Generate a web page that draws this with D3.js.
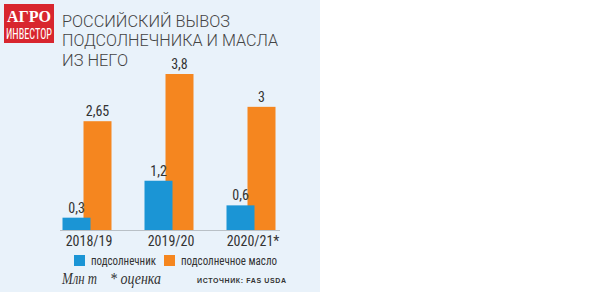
<!DOCTYPE html>
<html>
<head>
<meta charset="utf-8">
<title>Российский вывоз</title>
<style>
  body { margin: 0; background: #fff; }
  svg { display: block; }
  .nar { font-family: "Liberation Sans Narrow", "Roboto Condensed", "Arial Narrow", sans-serif; }
</style>
<script src="https://d3js.org/d3.v7.min.js"></script>
</head>
<body>
<script>
var seasons = ["2018/19", "2019/20", "2020/21*"];
var seeds = [0.3, 1.2, 0.6];
var oil = [2.65, 3.8, 3];
var seriesNames = ["подсолнечник", "подсолнечное масло"];
var colors = ["#1b95d5", "#f5861f"];

var w = 600, h = 292;
var svg = d3.select("body").append("svg").attr("width", w).attr("height", h);

svg.append("rect").attr("width", 320).attr("height", h).attr("fill", "#e9f2fa");

// logo
svg.append("rect").attr("x", 4).attr("y", 4).attr("width", 50).attr("height", 39).attr("fill", "#d8262e");
svg.append("text").attr("x", 29).attr("y", 22).attr("text-anchor", "middle")
  .attr("font-family", "Liberation Serif").attr("font-weight", "bold").attr("font-size", 16)
  .attr("textLength", 44).attr("lengthAdjust", "spacingAndGlyphs")
  .attr("fill", "#fff").text("АГРО");
svg.append("text").attr("class", "nar").attr("x", 29).attr("y", 39).attr("text-anchor", "middle")
  .attr("font-size", 14).attr("fill", "#fff").attr("textLength", 46).attr("lengthAdjust", "spacingAndGlyphs")
  .text("ИНВЕСТОР");

// title
var title = ["РОССИЙСКИЙ ВЫВОЗ", "ПОДСОЛНЕЧНИКА И МАСЛА", "ИЗ НЕГО"];
var titleW = [168, 216, 66];
svg.selectAll("text.title").data(title).enter().append("text")
  .attr("class", "title")
  .attr("x", 62).attr("y", function (d, i) { return 27 + i * 19.3; })
  .attr("font-family", "Roboto").attr("font-weight", 300)
  .attr("font-size", 16.8).attr("fill", "#444")
  .attr("textLength", function (d, i) { return titleW[i]; })
  .attr("lengthAdjust", "spacingAndGlyphs")
  .text(function (d) { return d; });

var x0 = d3.scaleBand().domain(seasons).range([46, 292]);
var y = d3.scaleLinear().domain([0, 3.8]).range([230, 74]);
var bw = 28, off = 21;

var g = svg.selectAll("g.grp").data(seasons).enter().append("g")
  .attr("transform", function (d) { return "translate(" + (x0(d) + x0.bandwidth() / 2) + ",0)"; });

// orange bars behind, blue in front
g.append("rect")
  .attr("x", -bw / 2 + off / 2)
  .attr("y", function (d, i) { return y(oil[i]); })
  .attr("width", bw)
  .attr("height", function (d, i) { return y(0) - y(oil[i]); })
  .attr("fill", colors[1]);
g.append("rect")
  .attr("x", -bw / 2 - off / 2)
  .attr("y", function (d, i) { return y(seeds[i]); })
  .attr("width", bw)
  .attr("height", function (d, i) { return y(0) - y(seeds[i]); })
  .attr("fill", colors[0]);

var fmt = function (v) { return String(v).replace(".", ","); };
g.append("text").attr("class", "nar")
  .attr("x", off / 2).attr("y", function (d, i) { return y(oil[i]) - 5; })
  .attr("text-anchor", "middle").attr("font-size", 14).attr("fill", "#333")
  .text(function (d, i) { return fmt(oil[i]); });
g.append("text").attr("class", "nar")
  .attr("x", -off / 2).attr("y", function (d, i) { return y(seeds[i]) - 5; })
  .attr("text-anchor", "middle").attr("font-size", 14).attr("fill", "#333")
  .text(function (d, i) { return fmt(seeds[i]); });

// baseline + category axis
var ax = svg.append("g").attr("transform", "translate(0," + y(0) + ")")
  .call(d3.axisBottom(x0).tickSize(0).tickPadding(6));
ax.select(".domain").attr("stroke", "#b9c0c6").attr("d", "M60,0.5H280");
ax.selectAll("text").attr("class", "nar").attr("font-size", 14).attr("fill", "#333")
  .attr("dx", 2).attr("font-family", null);

// legend
var leg = [[74, 91, 65], [164, 181, 96]];
seriesNames.forEach(function (s, i) {
  svg.append("rect").attr("x", leg[i][0]).attr("y", 255).attr("width", 11).attr("height", 11).attr("fill", colors[i]);
  svg.append("text").attr("class", "nar").attr("x", leg[i][1]).attr("y", 265)
    .attr("font-size", 13).attr("fill", "#333")
    .attr("textLength", leg[i][2]).attr("lengthAdjust", "spacingAndGlyphs").text(s);
});

// footer
svg.append("text").attr("x", 62).attr("y", 284)
  .attr("font-family", "Liberation Serif").attr("font-style", "italic").attr("font-size", 16)
  .attr("textLength", 35).attr("lengthAdjust", "spacingAndGlyphs")
  .attr("fill", "#333").text("Млн т");
svg.append("text").attr("x", 110).attr("y", 284)
  .attr("font-family", "Liberation Serif").attr("font-style", "italic").attr("font-size", 16)
  .attr("textLength", 51).attr("lengthAdjust", "spacingAndGlyphs")
  .attr("fill", "#333").text("* оценка");
svg.append("text").attr("x", 197).attr("y", 283)
  .attr("font-family", "Liberation Sans").attr("font-weight", "bold").attr("font-size", 7)
  .attr("textLength", 89).attr("lengthAdjust", "spacing")
  .attr("fill", "#333").text("ИСТОЧНИК: FAS USDA");
</script>
</body>
</html>
